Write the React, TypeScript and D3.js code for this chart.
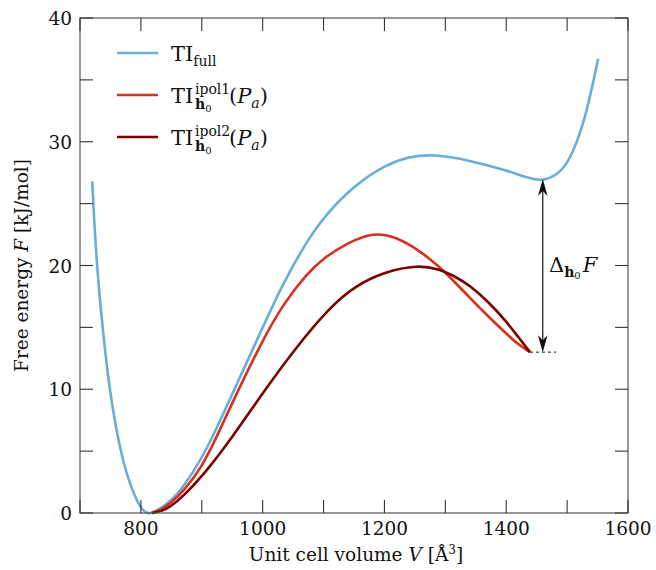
import React, { useEffect } from "react";
import * as d3 from "d3";

// TI_full curve (V in Å^3, F in kJ/mol)
const fullV = [720, 727, 737, 748, 766, 780, 793, 803, 812, 825, 848, 870, 900, 925, 950, 1000, 1030, 1060, 1094, 1150, 1204, 1240, 1280, 1340, 1400, 1440, 1461, 1483, 1500, 1515, 1532, 1551];
const fullF = [26.8, 20.2, 15.0, 10.0, 5.0, 2.6, 1.0, 0.2, -0.1, 0.15, 0.9, 2.1, 4.4, 6.9, 9.6, 15.0, 18.2, 20.9, 23.6, 26.5, 28.2, 28.8, 29.0, 28.5, 27.7, 27.0, 26.85, 27.3, 28.2, 29.8, 32.3, 36.7];

// TI_h0^ipol1(P_a)
const ipol1V = [818, 835, 850, 870, 900, 925, 950, 1000, 1034, 1072, 1100, 1138, 1182, 1220, 1258, 1290, 1313, 1340, 1370, 1400, 1420, 1439];
const ipol1F = [0, 0.3, 0.85, 1.75, 3.7, 6.2, 8.9, 14.0, 16.9, 19.3, 20.6, 21.8, 22.7, 22.3, 21.2, 19.9, 18.8, 17.4, 15.9, 14.5, 13.6, 13.0];

// TI_h0^ipol2(P_a)
const ipol2V = [818, 835, 850, 870, 900, 950, 1000, 1055, 1110, 1150, 1200, 1255, 1290, 1313, 1340, 1370, 1400, 1420, 1439];
const ipol2F = [0, 0.15, 0.55, 1.4, 2.9, 6.1, 9.7, 13.4, 16.6, 18.3, 19.5, 20.05, 19.7, 19.2, 18.4, 17.1, 15.5, 14.2, 13.0];

const xTicks = [700, 800, 900, 1000, 1100, 1200, 1300, 1400, 1500, 1600];
const xLabels = [800, 1000, 1200, 1400, 1600];
const yTicks = [0, 5, 10, 15, 20, 25, 30, 35, 40];
const yLabels = [0, 10, 20, 30, 40];

const deltaTop = 27.0;
const deltaBottom = 13.0;
const deltaV = 1460;

const W = 656;
const H = 570;
const left = 80, right = 628, top = 18, bottom = 513;

const BLUE = "#68aed8";
const RED = "#d8301e";
const DARK = "#7b0000";
const FRAME = "#555";
const SERIF = "'DejaVu Serif', serif";

export default function App() {
  useEffect(() => {
    document.body.style.margin = "0";
  }, []);

  const x = d3.scaleLinear().domain([700, 1600]).range([left, right]);
  const y = d3.scaleLinear().domain([0, 40]).range([bottom, top]);

  // B-spline smooths the hand-read points
  const line = d3
    .line<[number, number]>()
    .x((d) => x(d[0]))
    .y((d) => y(d[1]))
    .curve(d3.curveBasis);

  const zip = (vs: number[], fs: number[]) => vs.map((v, i) => [v, fs[i]] as [number, number]);

  const ax = x(deltaV);
  const yt = y(deltaTop);
  const yb = y(deltaBottom);
  const headLen = 17;
  const headW = 4.8;
  const topHead = `M${ax},${yt} L${ax - headW},${yt + headLen} L${ax},${yt + headLen - 5} L${ax + headW},${yt + headLen} Z`;
  const botHead = `M${ax},${yb} L${ax - headW},${yb - headLen} L${ax},${yb - headLen + 5} L${ax + headW},${yb - headLen} Z`;

  const legendX = 117;
  const legendRows = [53, 95, 137];

  return (
    <svg width={W} height={H} style={{ display: "block" }} fontFamily={SERIF}>
      <rect width={W} height={H} fill="white" />

      {/* curves */}
      <path d={line(zip(fullV, fullF)) || ""} fill="none" stroke={BLUE} strokeWidth={2.6} />
      <path d={line(zip(ipol1V, ipol1F)) || ""} fill="none" stroke={RED} strokeWidth={2.6} />
      <path d={line(zip(ipol2V, ipol2F)) || ""} fill="none" stroke={DARK} strokeWidth={2.6} />

      {/* frame */}
      <rect x={left} y={top} width={right - left} height={bottom - top} fill="none" stroke={FRAME} strokeWidth={1.2} />

      {/* x ticks (bottom + top, inward) */}
      {xTicks.map((t) => (
        <g key={"x" + t} stroke="#333" strokeWidth={1.1}>
          <line x1={x(t)} x2={x(t)} y1={bottom} y2={bottom - 13} />
          <line x1={x(t)} x2={x(t)} y1={top} y2={top + 13} />
        </g>
      ))}
      {xLabels.map((t) => (
        <text key={"xl" + t} x={x(t)} y={535} textAnchor="middle" fontSize={18.5} fill="#111">
          {t}
        </text>
      ))}

      {/* y ticks (left + right, inward) */}
      {yTicks.map((t) => (
        <g key={"y" + t} stroke="#333" strokeWidth={1.1}>
          <line x1={left} x2={left + 13} y1={y(t)} y2={y(t)} />
          <line x1={right} x2={right - 13} y1={y(t)} y2={y(t)} />
        </g>
      ))}
      {yLabels.map((t) => (
        <text key={"yl" + t} x={left - 8} y={y(t) + 7} textAnchor="end" fontSize={18.5} fill="#111">
          {t}
        </text>
      ))}

      {/* axis labels */}
      <text x={(left + right) / 2 + 2} y={561} textAnchor="middle" fontSize={18.5} fill="#111">
        Unit cell volume <tspan fontStyle="italic">V</tspan> [Å<tspan dy={-7} fontSize={12}>3</tspan><tspan dy={7}>]</tspan>
      </text>
      <text transform={`translate(28,${(top + bottom) / 2}) rotate(-90)`} textAnchor="middle" fontSize={18.5} fill="#111">
        Free energy <tspan fontStyle="italic">F</tspan> [kJ/mol]
      </text>

      {/* legend */}
      <line x1={legendX} x2={legendX + 41} y1={legendRows[0]} y2={legendRows[0]} stroke={BLUE} strokeWidth={2.6} />
      <line x1={legendX} x2={legendX + 41} y1={legendRows[1]} y2={legendRows[1]} stroke={RED} strokeWidth={2.6} />
      <line x1={legendX} x2={legendX + 41} y1={legendRows[2]} y2={legendRows[2]} stroke={DARK} strokeWidth={2.6} />

      <g fill="#111">
        <text x={171} y={legendRows[0] + 8} fontSize={21}>
          TI<tspan dy={5} fontSize={14}>full</tspan>
        </text>
        {[1, 2].map((k) => {
          const base = legendRows[k] + 8;
          return (
            <g key={"leg" + k}>
              <text x={171} y={base} fontSize={21}>TI</text>
              <text x={195} y={base - 9} fontSize={14}>{"ipol" + k}</text>
              <text x={195} y={base + 6} fontSize={14} fontWeight="bold">
                h<tspan dy={3} fontSize={10} fontWeight="normal">0</tspan>
              </text>
              <text x={229} y={base} fontSize={21}>
                (<tspan fontStyle="italic">P</tspan><tspan dy={5} fontSize={14} fontStyle="italic">a</tspan><tspan dy={-5}>)</tspan>
              </text>
            </g>
          );
        })}
      </g>

      {/* Delta annotation */}
      <line x1={x(1439)} x2={x(1482)} y1={yb} y2={yb} stroke="#111" strokeWidth={1} strokeDasharray="3,3" />
      <line x1={ax} x2={ax} y1={yt + 10} y2={yb - 10} stroke="#111" strokeWidth={1.2} />
      <path d={topHead} fill="#111" />
      <path d={botHead} fill="#111" />
      <text x={549} y={272} fontSize={21} fill="#111">
        Δ<tspan dy={5} fontSize={14} fontWeight="bold">h</tspan><tspan dy={2} fontSize={10}>0</tspan><tspan dy={-7} dx={2} fontStyle="italic">F</tspan>
      </text>
    </svg>
  );
}
